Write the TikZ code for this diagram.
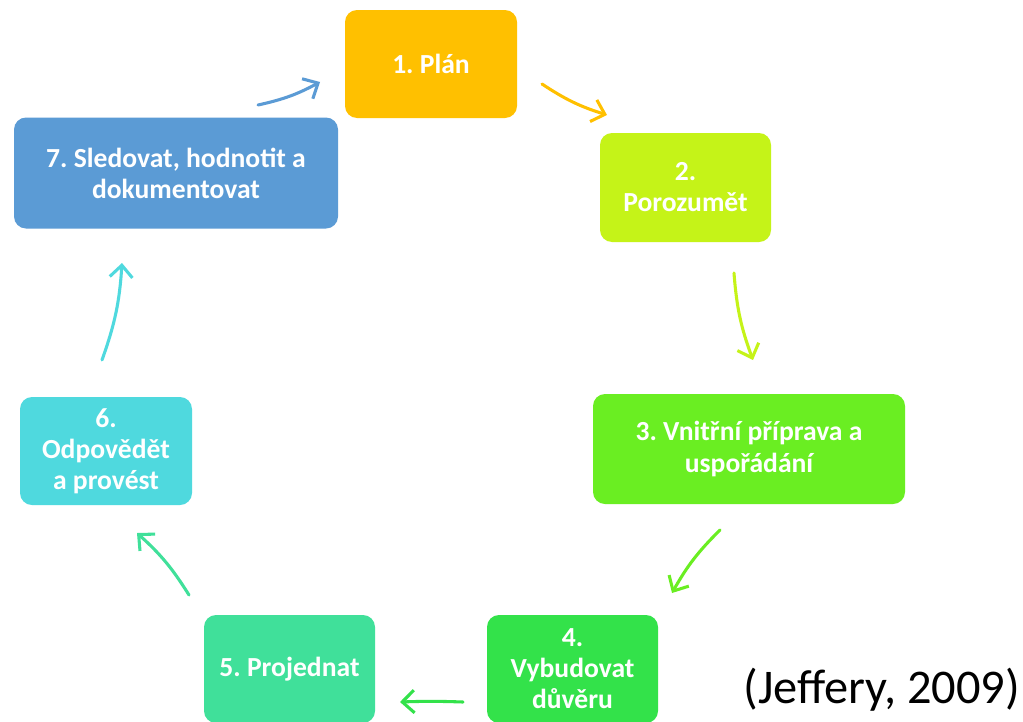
\documentclass[tikz,border=0pt]{standalone}
\usepackage{fontspec}
\setmainfont{Carlito}
\frenchspacing
\usetikzlibrary{arrows.meta}
\definecolor{c1}{HTML}{FFC000}
\definecolor{c2}{HTML}{C5F318}
\definecolor{c3}{HTML}{6AEE22}
\definecolor{c4}{HTML}{33E24A}
\definecolor{c5}{HTML}{40E09A}
\definecolor{c6}{HTML}{4FD9DE}
\definecolor{c7}{HTML}{5B9BD5}
\tikzset{
  stepbox/.style={rectangle, rounded corners=9pt, draw=none, inner sep=0pt,
    align=center, text=white, font=\frenchspacing\bfseries\fontsize{20.7}{23.3}\selectfont},
  cyc/.style={line width=2.3pt, line cap=round,
    -{Straight Barb[length=9pt, width=17pt, line width=2.3pt]}}
}
\begin{document}
\begin{tikzpicture}[x=0.75pt, y=-0.75pt]
\useasboundingbox (0,0) rectangle (1023,721);
\clip (0,0) rectangle (1023,721);
\fill[white] (0,0) rectangle (1023,721);

\node[stepbox, fill=c1, minimum width=129pt, minimum height=81pt] (n1) at (431,64) {1. Plán};
\node[stepbox, fill=c2, minimum width=128.25pt, minimum height=81.75pt] (n2) at (685.5,187.5) {2.\\Porozumět};
\node[stepbox, fill=c3, minimum width=234pt, minimum height=82.5pt] (n3) at (749,449) {3. Vnitřní příprava a\\uspořádání};
\node[stepbox, fill=c4, minimum width=128.25pt, minimum height=81pt] (n4) at (572.5,669) {4.\\Vybudovat\\důvěru};
\node[stepbox, fill=c5, minimum width=128.25pt, minimum height=81pt] (n5) at (289.5,669) {5. Projednat};
\node[stepbox, fill=c6, minimum width=129pt, minimum height=81pt] (n6) at (106,451) {6.\\Odpovědět\\a provést};
\node[stepbox, fill=c7, minimum width=243pt, minimum height=83.25pt] (n7) at (176,173) {7. Sledovat, hodnotit a\\dokumentovat};

\node[font=\frenchspacing\fontsize{36.3}{42}\selectfont, anchor=base] (cite) at (882,703) {(Jeffery, 2009)};

\coordinate (a1s) at (258,105); \coordinate (a1e) at (320,82);
\coordinate (a2s) at (542,84);  \coordinate (a2e) at (607,115);
\coordinate (a3s) at (734,273); \coordinate (a3e) at (753,360);
\coordinate (a4s) at (720,530); \coordinate (a4e) at (672,593);
\coordinate (a5s) at (463,702); \coordinate (a5e) at (400,702);
\coordinate (a6s) at (189,595); \coordinate (a6e) at (137,533);
\coordinate (a7s) at (102,360); \coordinate (a7e) at (122,263);

\draw[cyc, c7] (a1s) to[bend right=8] (a1e);
\draw[cyc, c1] (a2s) to[bend right=8] (a2e);
\draw[cyc, c2] (a3s) to[bend right=8] (a3e);
\draw[cyc, c3] (a4s) to[bend right=8] (a4e);
\draw[cyc, c4] (a5s) to[bend right=2] (a5e);
\draw[cyc, c5] (a6s) to[bend right=8] (a6e);
\draw[cyc, c6] (a7s) to[bend right=8] (a7e);
\end{tikzpicture}
\end{document}
